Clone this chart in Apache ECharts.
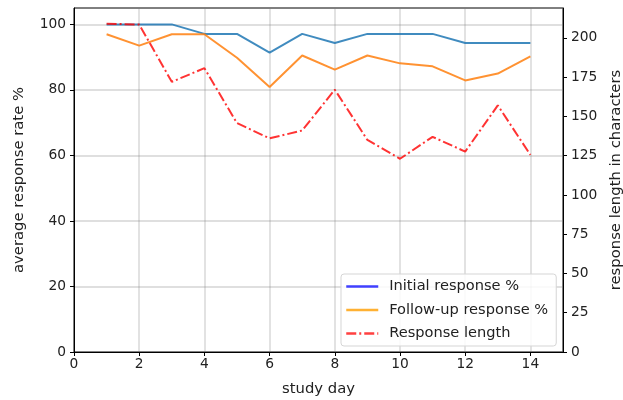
<!DOCTYPE html>
<html><head><meta charset="utf-8">
<script src="https://cdn.jsdelivr.net/npm/echarts@6/dist/echarts.min.js"></script>
<style>html,body{margin:0;padding:0;background:#fff}#c{width:623px;height:400px}</style>
</head><body><div id="c"></div>
<script>
const days = [1,2,3,4,5,6,7,8,9,10,11,12,13,14];
const initialResponse = [100,100,100,97.1,97.1,91.4,97.1,94.3,97.1,97.1,97.1,94.3,94.3,94.3];
const followUpResponse = [97.0,93.5,97.0,97.0,89.8,80.9,90.5,86.2,90.5,88.1,87.2,82.9,85.0,90.2];
const responseLength = [209,208.5,172,180.7,145.7,136,141,167,135,123,137,127.6,157,125.5];
const seriesNames = ['Initial response %','Follow-up response %','Response length'];

const font = 'DejaVu Sans';
const txt = '#222';
const fs = 13.8;
const fsName = 14.8;
const fsLegend = 14.6;
const chart = echarts.init(document.getElementById('c'), null, {renderer:'canvas'});
const pairs = (ys) => days.map((d,i)=>[d, ys[i]]);
chart.setOption({
  animation:false,
  textStyle:{fontFamily:font},
  grid:{left:74,right:60,top:8,bottom:48,show:true,borderColor:'#000',borderWidth:1,backgroundColor:'transparent',outerBoundsMode:'none',containLabel:false},
  legend:{
    orient:'vertical', left:341, top:274, itemWidth:32, itemHeight:14, itemGap:8.5,
    padding:[5,8,5,4], borderColor:'#d5d5d5', borderWidth:1, borderRadius:3,
    backgroundColor:'rgba(255,255,255,0.85)',
    textStyle:{fontFamily:font,fontSize:fsLegend,color:txt,padding:[0,0,0,6]},
    data:[
      {name:seriesNames[0], itemStyle:{color:'#4040ff',opacity:0}, lineStyle:{color:'#4040ff',width:2.5,type:'solid',opacity:1}},
      {name:seriesNames[1], itemStyle:{color:'#ffb133',opacity:0}, lineStyle:{color:'#ffb133',width:2.5,type:'solid',opacity:1}},
      {name:seriesNames[2], itemStyle:{color:'#ff4040',opacity:0}, lineStyle:{color:'#ff4040',width:2.5,type:[10,3,2,3],opacity:1}}
    ]
  },
  xAxis:{type:'value',min:0,max:15,interval:2,
    name:'study day',nameLocation:'middle',nameGap:30,nameTextStyle:{fontFamily:font,fontSize:fsName,color:txt},
    axisLine:{lineStyle:{color:'#000'}},axisTick:{length:4,lineStyle:{color:'#000'}},
    axisLabel:{showMaxLabel:false,fontFamily:font,fontSize:fs,color:txt,margin:5},
    splitLine:{show:true,lineStyle:{color:'rgba(128,128,128,0.25)',width:1.8}}},
  yAxis:[
    {type:'value',min:0,max:105,interval:20,position:'left',
      name:'average response rate %',nameLocation:'middle',nameGap:47,nameRotate:90,nameTextStyle:{fontFamily:font,fontSize:fsName,color:txt},
      axisLine:{show:true,lineStyle:{color:'#000'}},axisTick:{show:true,length:4,lineStyle:{color:'#000'}},
      axisLabel:{showMaxLabel:false,fontFamily:font,fontSize:fs,color:txt,margin:8},
      splitLine:{show:true,lineStyle:{color:'rgba(128,128,128,0.25)',width:1.8}}},
    {type:'value',min:0,max:219,interval:25,position:'right',
      name:'response length in characters',nameLocation:'middle',nameGap:46,nameRotate:90,nameTextStyle:{fontFamily:font,fontSize:fsName,color:txt},
      axisLine:{show:true,lineStyle:{color:'#000'}},axisTick:{show:true,length:4,lineStyle:{color:'#000'}},
      axisLabel:{showMaxLabel:false,fontFamily:font,fontSize:fs,color:txt,margin:8},
      splitLine:{show:false}}
  ],
  series:[
    {name:seriesNames[0],type:'line',yAxisIndex:0,data:pairs(initialResponse),symbol:'none',
      lineStyle:{color:'#1f77b4',width:2,opacity:0.85},itemStyle:{color:'#1f77b4'}},
    {name:seriesNames[1],type:'line',yAxisIndex:0,data:pairs(followUpResponse),symbol:'none',
      lineStyle:{color:'#ff7f0e',width:2,opacity:0.85},itemStyle:{color:'#ff7f0e'}},
    {name:seriesNames[2],type:'line',yAxisIndex:1,data:pairs(responseLength),symbol:'none',
      lineStyle:{color:'#ff0000',width:2,opacity:0.8,type:[10,3,2,3]},itemStyle:{color:'#ff0000'}}
  ]
});
</script></body></html>
